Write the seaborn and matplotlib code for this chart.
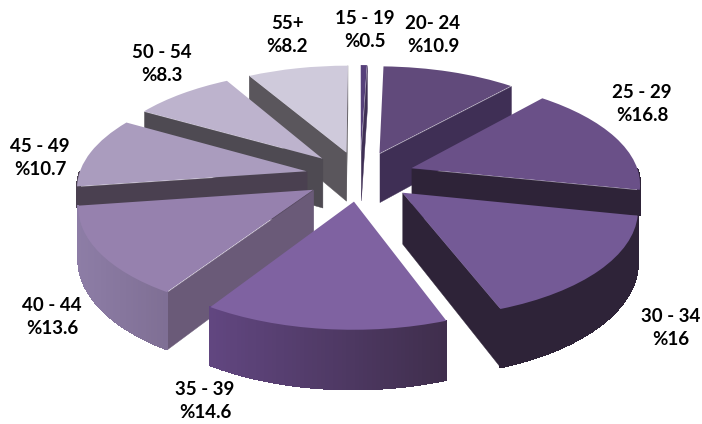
import numpy as np
import matplotlib
matplotlib.use("Agg")
import matplotlib.pyplot as plt
import seaborn as sns
from matplotlib.collections import PolyCollection
from matplotlib.colors import to_rgb
from matplotlib.transforms import Transform

ages = ["15 - 19", "20- 24", "25 - 29", "30 - 34", "35 - 39", "40 - 44", "45 - 49", "50 - 54", "55+"]
shares = [0.5, 10.9, 16.8, 16, 14.6, 13.6, 10.7, 8.3, 8.2]
share_text = ["%0.5", "%10.9", "%16.8", "%16", "%14.6", "%13.6", "%10.7", "%8.3", "%8.2"]

top_colors = ["#56407a", "#614a7b", "#6a5088", "#745a96", "#7f62a1", "#9681ae", "#aa9cbe", "#bdb3cd", "#cfcadb"]
wall_left = ["#3f2f55", "#3f2f55", "#2e2338", "#2e2338", "#614680", "#8d7da6", "#4a4050", "#4e4a52", "#5a565c"]
wall_right = ["#3f2f55", "#3f2f55", "#2e2338", "#2e2338", "#3f2e4c", "#7f6f94", "#4a4050", "#4e4a52", "#5a565c"]
face_colors = ["#3f2f55", "#3f2f55", "#2e2338", "#2e2338", "#4a3560", "#6a5a78", "#4a4050", "#4e4a52", "#5a565c"]
# outer wall height, the two slices behind a neighbour stay short so nothing pokes out
wall_height = [1, 1, 0.5, 1, 1, 1, 0.4, 1, 1]
label_spots = [(365, 30), (433, 35), (642, 104), (671, 328), (205, 401), (52, 317), (40, 158), (162, 64), (287, 35)]

# screen mapping of the tilted pie
CX, CY = 360, 176
RX, RY = 228, 104
PERSP = 0.131
DEPTH = 50


def project(x, y, z=0.0):
    w = 1 + PERSP * np.asarray(y, dtype=float)
    return CX + x * RX / w, CY - y * RY / w + z * DEPTH / w


class Tilt(Transform):
    input_dims = output_dims = 2
    has_inverse = False

    def transform_non_affine(self, values):
        sx, sy = project(values[:, 0], values[:, 1])
        return np.column_stack([sx, sy])


sns.set_theme(style="white")
plt.rcParams["font.family"] = ["Lato", "DejaVu Sans"]

fig, ax = plt.subplots(figsize=(7.02, 4.24), dpi=100)
fig.subplots_adjust(0, 0, 1, 1)

wedges, _ = ax.pie(shares, explode=[0.24] * len(shares), colors=top_colors,
                   startangle=90, counterclock=False, radius=1,
                   wedgeprops={"linewidth": 0})
ax.set_aspect("auto")
ax.set_xlim(0, 702)
ax.set_ylim(424, 0)
ax.axis("off")

tilt = Tilt() + ax.transData
rank = np.argsort([-w.center[1] for w in wedges])

for order, i in enumerate(rank):
    wedge = wedges[i]
    wedge.set_transform(tilt)
    wedge.set_zorder(3 * order + 3)
    wedge.set_clip_on(False)
    cx, cy = wedge.center
    t1, t2 = np.radians(wedge.theta1), np.radians(wedge.theta2)

    # radial side faces, only those turned to the viewer
    polys, cols = [], []
    for ang, normal in ((t1, np.sin(t1 - np.pi / 2)), (t2, np.sin(t2 + np.pi / 2))):
        if normal < 0:
            ex, ey = cx + np.cos(ang), cy + np.sin(ang)
            a, b = project(cx, cy), project(ex, ey)
            c, d = project(ex, ey, wall_height[i]), project(cx, cy, 1)
            polys.append([a, b, c, d])
            cols.append(face_colors[i])
    ax.add_collection(PolyCollection(polys, facecolors=cols, edgecolors=cols, linewidths=0.3,
                                     zorder=3 * order + 1))

    # outer wall: solid base, then strips for the left to right shading
    thetas = np.linspace(t1, t2, 60)
    thetas = thetas[np.sin(thetas) <= 0]
    if len(thetas) < 2:
        continue
    ax_x, ax_y = cx + np.cos(thetas), cy + np.sin(thetas)
    upper = np.column_stack(project(ax_x, ax_y))
    lower = np.column_stack(project(ax_x, ax_y, wall_height[i]))
    left, right = np.array(to_rgb(wall_left[i])), np.array(to_rgb(wall_right[i]))
    ax.add_collection(PolyCollection([np.vstack([upper, lower[::-1]])], facecolors=[(left + right) / 2],
                                     linewidths=0, zorder=3 * order + 1.5))
    span = max(upper[:, 0].max() - upper[:, 0].min(), 1)
    strips, shades = [], []
    for j in range(len(thetas) - 1):
        strips.append([upper[j], upper[j + 1], lower[j + 1], lower[j]])
        frac = (upper[j, 0] - upper[:, 0].min()) / span
        shades.append(left + (right - left) * frac)
    ax.add_collection(PolyCollection(strips, facecolors=shades, edgecolors=shades, linewidths=0.7,
                                     antialiaseds=False, zorder=3 * order + 2))

for age, text, (lx, ly) in zip(ages, share_text, label_spots):
    ax.text(lx, ly, f"{age}\n{text}", ha="center", va="center", fontsize=13.5,
            fontweight="bold", color="black", linespacing=1.38, zorder=60)

fig.savefig("out.png", dpi=100)
